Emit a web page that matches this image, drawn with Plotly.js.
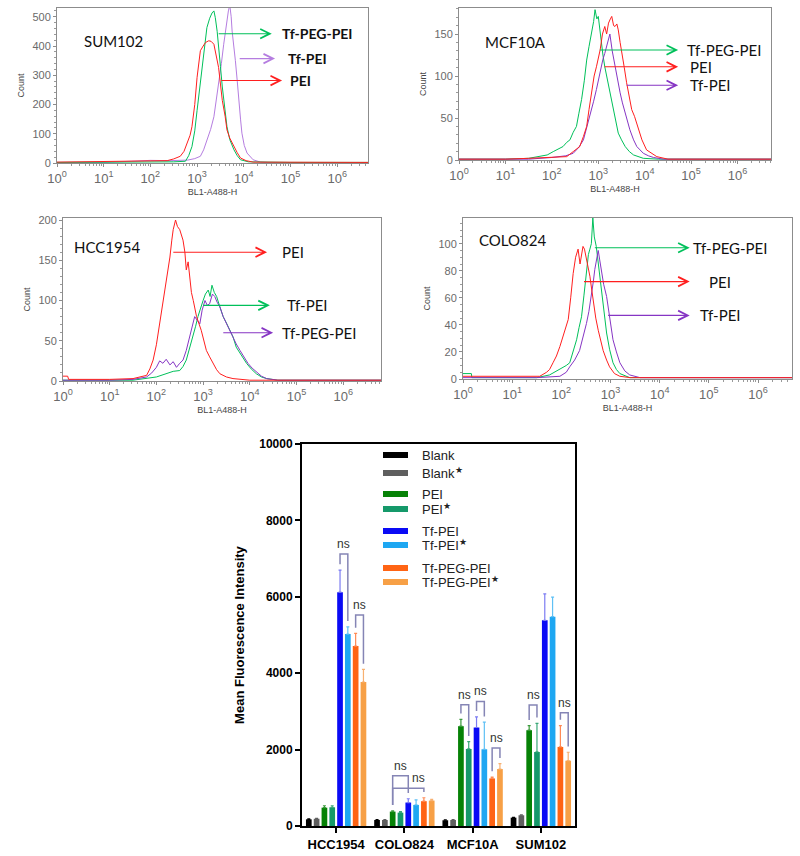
<!DOCTYPE html>
<html>
<head>
<meta charset="utf-8">
<script src="https://cdn.plot.ly/plotly-3.0.1.min.js"></script>
<style>html,body{margin:0;padding:0;background:#fff}#plot{width:800px;height:856px}</style>
</head>
<body>
<div id="plot"></div>
<script>
// ---- flow cytometry histograms (x = log10 of BL1-A488-H, y = count) ----
const sumPeiX = [0, 0.5, 1.0, 1.5, 2.0, 2.36, 2.5, 2.64, 2.72, 2.79, 2.85, 2.89, 2.95, 3.0, 3.07, 3.13, 3.18, 3.25, 3.3, 3.36, 3.41, 3.46, 3.5, 3.54, 3.6, 3.64, 3.7, 3.79, 3.86, 3.93, 4.05, 4.2, 5.0, 6.66];
const sumPeiY = [3, 4, 3, 4, 5, 8, 14, 23, 40, 68, 95, 124, 200, 293, 384, 400, 412, 418, 416, 406, 370, 327, 270, 214, 160, 113, 85, 56, 35, 17, 8, 3, 2, 2];
const sumTfPegX = [0, 1, 2, 2.5, 2.75, 2.82, 2.89, 2.95, 3.0, 3.05, 3.1, 3.16, 3.21, 3.27, 3.32, 3.36, 3.39, 3.43, 3.46, 3.5, 3.54, 3.59, 3.64, 3.7, 3.79, 3.86, 3.93, 4.1, 5, 6.66];
const sumTfPegY = [2, 2, 3, 4, 6, 25, 56, 110, 180, 250, 327, 400, 463, 495, 513, 520, 497, 450, 406, 330, 260, 190, 124, 80, 45, 25, 11, 4, 2, 2];
const sumTfPeiX = [0, 1, 1.6, 2.0, 2.4, 2.8, 2.95, 3.07, 3.14, 3.21, 3.29, 3.36, 3.41, 3.46, 3.52, 3.57, 3.61, 3.64, 3.67, 3.7, 3.73, 3.75, 3.79, 3.82, 3.86, 3.89, 3.93, 3.96, 4.01, 4.07, 4.14, 4.2, 4.36, 4.6, 6.66];
const sumTfPeiY = [2, 2, 6, 9, 8, 10, 15, 23, 45, 79, 115, 158, 210, 271, 340, 406, 460, 497, 520, 540, 500, 451, 400, 350, 280, 214, 150, 102, 60, 34, 20, 11, 3, 1, 1];

const mcfTfPegX = [0, 1.0, 1.5, 1.74, 1.9, 2.03, 2.15, 2.24, 2.32, 2.39, 2.46, 2.53, 2.58, 2.64, 2.7, 2.75, 2.8, 2.86, 2.9, 2.93, 2.97, 3.0, 3.04, 3.07, 3.1, 3.14, 3.18, 3.22, 3.27, 3.32, 3.38, 3.43, 3.5, 3.58, 3.67, 3.76, 3.97, 4.3, 6.72];
const mcfTfPegY = [1, 1, 2, 4, 6, 10, 14, 16, 21, 24, 33, 40, 55, 72, 95, 119, 135, 151, 165, 179, 168, 171, 150, 139, 125, 111, 100, 88, 75, 60, 45, 32, 24, 16, 10, 6, 2, 1, 1];
const mcfPeiX = [0, 1, 1.5, 2.0, 2.32, 2.46, 2.6, 2.68, 2.75, 2.8, 2.86, 2.91, 2.96, 3.0, 3.04, 3.09, 3.14, 3.18, 3.22, 3.26, 3.29, 3.33, 3.36, 3.4, 3.43, 3.47, 3.5, 3.56, 3.61, 3.67, 3.72, 3.78, 3.83, 3.88, 3.94, 4.04, 4.15, 4.26, 4.5, 6.72];
const mcfPeiY = [1, 1, 2, 3, 4, 10, 16, 28, 40, 60, 80, 100, 111, 122, 131, 150, 159, 150, 163, 168, 171, 160, 159, 162, 155, 140, 131, 110, 92, 75, 60, 52, 44, 34, 24, 12, 8, 4, 1, 1];
const mcfTfPeiX = [0, 1, 1.5, 2.0, 2.3, 2.46, 2.58, 2.68, 2.75, 2.82, 2.9, 2.96, 3.02, 3.07, 3.1, 3.14, 3.2, 3.25, 3.3, 3.36, 3.42, 3.47, 3.52, 3.58, 3.63, 3.68, 3.76, 3.83, 3.9, 3.97, 4.08, 4.19, 4.4, 6.72];
const mcfTfPeiY = [1, 1, 1, 3, 5, 8, 15, 24, 38, 52, 70, 84, 100, 115, 120, 127, 140, 150, 130, 111, 95, 80, 68, 56, 48, 36, 24, 16, 12, 8, 5, 3, 1, 1];

const hccPeiX = [0, 0.1, 0.12, 1.0, 1.5, 1.79, 1.86, 1.93, 2.0, 2.07, 2.13, 2.18, 2.24, 2.29, 2.33, 2.36, 2.41, 2.45, 2.5, 2.54, 2.57, 2.61, 2.64, 2.68, 2.71, 2.75, 2.79, 2.86, 2.96, 3.07, 3.14, 3.21, 3.29, 3.36, 3.5, 3.64, 4.0, 6.81];
const hccPeiY = [6, 6, 2, 2, 3, 7, 15, 26, 45, 71, 95, 113, 135, 154, 175, 188, 200, 192, 188, 180, 175, 160, 138, 148, 129, 110, 100, 80, 63, 38, 30, 22, 14, 9, 5, 3, 1, 1];
const hccTfPegX = [0, 1, 1.5, 1.79, 1.9, 2.0, 2.07, 2.14, 2.21, 2.29, 2.36, 2.43, 2.5, 2.57, 2.64, 2.71, 2.77, 2.82, 2.88, 2.93, 2.98, 3.04, 3.09, 3.14, 3.2, 3.25, 3.3, 3.36, 3.43, 3.5, 3.57, 3.64, 3.71, 3.79, 3.88, 3.96, 4.05, 4.14, 4.25, 4.36, 4.6, 6.81];
const hccTfPegY = [1, 1, 2, 5, 10, 17, 25, 22, 27, 20, 24, 17, 22, 26, 38, 55, 70, 80, 75, 71, 88, 100, 94, 96, 108, 105, 98, 92, 80, 71, 64, 55, 46, 38, 30, 22, 16, 11, 6, 3, 1, 1];
const hccTfPeiX = [0, 1, 1.5, 2.0, 2.21, 2.36, 2.5, 2.57, 2.64, 2.71, 2.79, 2.84, 2.89, 2.95, 3.0, 3.05, 3.11, 3.15, 3.19, 3.24, 3.29, 3.36, 3.43, 3.5, 3.57, 3.64, 3.71, 3.82, 3.93, 4.03, 4.14, 4.25, 4.36, 4.6, 6.81];
const hccTfPeiY = [1, 1, 1, 5, 9, 12, 13, 18, 26, 40, 55, 68, 80, 92, 100, 108, 113, 105, 119, 110, 105, 92, 80, 72, 63, 55, 42, 32, 22, 15, 9, 5, 3, 1, 1];

const coloPeiX = [0, 1.0, 1.56, 1.7, 1.76, 1.83, 1.9, 1.97, 2.03, 2.09, 2.14, 2.19, 2.24, 2.29, 2.34, 2.38, 2.41, 2.44, 2.47, 2.52, 2.58, 2.61, 2.64, 2.7, 2.75, 2.8, 2.85, 2.92, 2.98, 3.08, 3.19, 3.4, 6.69];
const coloPeiY = [2, 2, 2, 5, 7, 12, 17, 24, 31, 38, 44, 60, 78, 90, 96, 85, 93, 98, 96, 88, 76, 68, 59, 45, 36, 28, 21, 14, 9, 4, 2, 1, 1];
const coloTfPegX = [0, 0.17, 0.18, 1.0, 1.5, 1.76, 1.97, 2.1, 2.17, 2.24, 2.31, 2.36, 2.41, 2.46, 2.51, 2.55, 2.58, 2.61, 2.64, 2.67, 2.71, 2.76, 2.81, 2.86, 2.92, 2.98, 3.05, 3.12, 3.19, 3.39, 6.69];
const coloTfPegY = [4, 4, 1, 1, 1, 3, 7, 10, 12, 20, 29, 38, 46, 62, 81, 92, 96, 100, 119, 105, 98, 82, 66, 50, 34, 22, 12, 7, 4, 1, 1];
const coloTfPeiX = [0, 1.0, 1.5, 1.97, 2.1, 2.17, 2.27, 2.37, 2.44, 2.51, 2.56, 2.61, 2.65, 2.68, 2.72, 2.75, 2.78, 2.81, 2.86, 2.92, 2.98, 3.05, 3.12, 3.19, 3.29, 3.39, 3.6, 6.69];
const coloTfPeiY = [1, 1, 1, 2, 5, 9, 14, 21, 30, 41, 50, 61, 72, 81, 90, 95, 88, 81, 70, 61, 45, 29, 20, 12, 6, 3, 1, 1];

const decadeVals = [1, 10, 100, 1000, 10000, 100000, 1000000];
const decadeText = ['10<sup>0</sup>', '10<sup>1</sup>', '10<sup>2</sup>', '10<sup>3</sup>', '10<sup>4</sup>', '10<sup>5</sup>', '10<sup>6</sup>'];

// ---- mean fluorescence intensity bar chart ----
const cellLines = ['HCC1954', 'COLO824', 'MCF10A', 'SUM102'];
const groupNames = ['Blank', 'Blank<sup>★</sup>', 'PEI', 'PEI<sup>★</sup>', 'Tf-PEI', 'Tf-PEI<sup>★</sup>', 'Tf-PEG-PEI', 'Tf-PEG-PEI<sup>★</sup>'];
const blankMfi = [175, 158, 150, 219];
const blankStarMfi = [190, 158, 158, 281];
const peiMfi = [480, 377, 2613, 2508];
const peiStarMfi = [490, 350, 2017, 1938];
const tfPeiMfi = [6120, 614, 2578, 5385];
const tfPeiStarMfi = [5025, 552, 2008, 5481];
const tfPegMfi = [4710, 650, 1245, 2070];
const tfPegStarMfi = [3770, 666, 1491, 1710];
const blankErr = [10, 8, 8, 10];
const blankStarErr = [10, 8, 8, 10];
const peiErr = [50, 20, 180, 120];
const peiStarErr = [40, 30, 190, 750];
const tfPeiErr = [580, 100, 280, 690];
const tfPeiStarErr = [190, 130, 710, 510];
const tfPegErr = [330, 90, 35, 560];
const tfPegStarErr = [330, 30, 140, 220];
// [cell index, bar index a, bar index b, bracket height]
const nsPairs = [[0, 4, 5, 7120], [0, 6, 7, 5525], [1, 2, 4, 1316], [1, 2, 6, 990],
                 [2, 2, 3, 3175], [2, 4, 5, 3262], [2, 6, 7, 2043], [3, 2, 3, 3166], [3, 6, 7, 2964]];

const W = 800, H = 856;
const RED = '#ff1f1f', GREEN = '#00c05a', PURPLE = '#8635c4', PURPLE_LIGHT = '#b57de0';

function histTrace(logX, counts, color, xa, ya) {
    return {
        x: logX.map(v => Math.pow(10, v)), y: counts, xaxis: xa, yaxis: ya,
        mode: 'lines', line: {color: color, width: 1}, hoverinfo: 'skip', showlegend: false
    };
}

const traces = [
    histTrace(sumTfPeiX, sumTfPeiY, PURPLE_LIGHT, 'x', 'y'),
    histTrace(sumTfPegX, sumTfPegY, GREEN, 'x', 'y'),
    histTrace(sumPeiX, sumPeiY, RED, 'x', 'y'),
    histTrace(mcfTfPegX, mcfTfPegY, GREEN, 'x2', 'y2'),
    histTrace(mcfTfPeiX, mcfTfPeiY, PURPLE, 'x2', 'y2'),
    histTrace(mcfPeiX, mcfPeiY, RED, 'x2', 'y2'),
    histTrace(hccTfPeiX, hccTfPeiY, GREEN, 'x3', 'y3'),
    histTrace(hccTfPegX, hccTfPegY, PURPLE, 'x3', 'y3'),
    histTrace(hccPeiX, hccPeiY, RED, 'x3', 'y3'),
    histTrace(coloTfPegX, coloTfPegY, GREEN, 'x4', 'y4'),
    histTrace(coloTfPeiX, coloTfPeiY, PURPLE, 'x4', 'y4'),
    histTrace(coloPeiX, coloPeiY, RED, 'x4', 'y4')
];

const barValues = [blankMfi, blankStarMfi, peiMfi, peiStarMfi, tfPeiMfi, tfPeiStarMfi, tfPegMfi, tfPegStarMfi];
const barErrors = [blankErr, blankStarErr, peiErr, peiStarErr, tfPeiErr, tfPeiStarErr, tfPegErr, tfPegStarErr];
const barColors = ['#000000', '#5f5f5f', '#068206', '#15996a', '#0a0af5', '#1ea7f2', '#ff6414', '#f7a046'];
const errColors = ['#000000', '#5f5f5f', '#3a9a3a', '#3aa878', '#7c7cf2', '#5fc0f5', '#ff8a55', '#f7b070'];
const cellPos = cellLines.map((_, i) => i);

barValues.forEach((vals, i) => {
    traces.push({
        type: 'bar', x: cellPos, y: vals, name: groupNames[i], xaxis: 'x5', yaxis: 'y5',
        marker: {color: barColors[i]}, showlegend: false,
        error_y: {type: 'data', symmetric: false, array: barErrors[i], arrayminus: vals.map(() => 0),
                  color: errColors[i], thickness: 1.2, width: 1.5}
    });
});

const BARGAP = 0.085;
const groupW = 1 - BARGAP;
const slotW = groupW / barValues.length;
function barCenter(cell, i) {
    return cell - groupW / 2 + (i + 0.5) * slotW;
}

function logAxis(dom, maxLog, anchor) {
    return {
        domain: dom, type: 'log', range: [0, maxLog], anchor: anchor,
        tickvals: decadeVals, ticktext: decadeText, tickmode: 'array',
        showline: true, linecolor: '#8c8c8c', linewidth: 1, mirror: true,
        ticks: 'outside', ticklen: 3, tickcolor: '#8c8c8c',
        minor: {ticks: 'outside', ticklen: 2, tickcolor: '#9a9a9a', dtick: 'D1'},
        tickfont: {family: 'Liberation Sans', size: 13, color: '#6a6a6a'},
        showgrid: false, zeroline: false,
        title: {text: 'BL1-A488-H', font: {family: 'Liberation Sans', size: 9, color: '#444'}, standoff: 4}
    };
}
function countAxis(dom, maxY, dtick, minorTick, anchor) {
    return {
        domain: dom, range: [0, maxY], dtick: dtick, anchor: anchor,
        showline: true, linecolor: '#8c8c8c', linewidth: 1, mirror: true,
        ticks: 'outside', ticklen: 3, tickcolor: '#8c8c8c',
        minor: {ticks: 'outside', ticklen: 2, tickcolor: '#9a9a9a', dtick: minorTick},
        tickfont: {family: 'Liberation Sans', size: 11, color: '#6a6a6a'},
        showgrid: false, zeroline: false,
        title: {text: 'Count', font: {family: 'Liberation Sans', size: 9, color: '#444'}, standoff: 6}
    };
}
const px = v => v / W;
const py = v => 1 - v / H;

const annotations = [];
const shapes = [];

// cell line labels and arrow labels inside the histograms
const panelLabels = [
    {xa: 'x', ya: 'y', name: 'SUM102', nx: 0.54, ny: 418, bold: true, arrows: [
        ['Tf-PEG-PEI', GREEN, 3.43, 4.6, 442, 4.78],
        ['Tf-PEI', PURPLE_LIGHT, 3.88, 4.67, 357, 4.9],
        ['PEI', RED, 3.49, 4.82, 282, 4.95]]},
    {xa: 'x2', ya: 'y2', name: 'MCF10A', nx: 0.52, ny: 141, bold: false, arrows: [
        ['Tf-PEG-PEI', GREEN, 3.0, 4.72, 131, 4.87],
        ['PEI', RED, 3.1, 4.72, 111, 4.93],
        ['Tf-PEI', PURPLE, 3.58, 4.72, 89, 4.93]]},
    {xa: 'x3', ya: 'y3', name: 'HCC1954', nx: 0.19, ny: 166, bold: false, arrows: [
        ['PEI', RED, 2.33, 4.37, 160, 4.65],
        ['Tf-PEI', GREEN, 2.97, 4.43, 94, 4.75],
        ['Tf-PEG-PEI', PURPLE, 3.4, 4.5, 60, 4.65]]},
    {xa: 'x4', ya: 'y4', name: 'COLO824', nx: 0.28, ny: 103, bold: false, arrows: [
        ['Tf-PEG-PEI', GREEN, 2.65, 4.61, 97, 4.64],
        ['PEI', RED, 2.43, 4.61, 72, 4.96],
        ['Tf-PEI', PURPLE, 2.92, 4.61, 47, 4.78]]}
];
panelLabels.forEach(p => {
    annotations.push({xref: p.xa, yref: p.ya, x: p.nx, y: p.ny, xanchor: 'left', yanchor: 'middle',
        text: p.name, showarrow: false, font: {family: 'Lato', size: 15, color: '#111'}});
    p.arrows.forEach(a => {
        annotations.push({xref: p.xa, yref: p.ya, x: a[3], y: a[4], axref: p.xa, ayref: p.ya, ax: a[2], ay: a[4],
            text: '', showarrow: true, arrowhead: 5, arrowsize: 1.7, arrowwidth: 1.1, arrowcolor: a[1]});
        annotations.push({xref: p.xa, yref: p.ya, x: a[5], y: a[4], xanchor: 'left', yanchor: 'middle',
            text: p.bold ? '<b>' + a[0] + '</b>' : a[0], showarrow: false,
            font: {family: 'Lato', size: p.bold ? 14 : 15, color: '#111'}});
    });
});

// ns brackets (the COLO824 PEI vs Tf-PEG-PEI label sits right of centre, as in the figure)
nsPairs.forEach(([cell, a, b, top], k) => {
    const xa = barCenter(cell, a), xb = barCenter(cell, b);
    const ya = Math.min(barValues[a][cell] + barErrors[a][cell] + 150, top - 80);
    const yb = Math.min(barValues[b][cell] + barErrors[b][cell] + 150, top - 80);
    shapes.push({type: 'path', xref: 'x5', yref: 'y5',
        path: `M${xa},${ya} L${xa},${top} L${xb},${top} L${xb},${yb}`,
        line: {color: '#8585b5', width: 1.5}});
    annotations.push({xref: 'x5', yref: 'y5', x: (xa + xb) / 2, y: top, yanchor: 'bottom', yshift: 1,
        xshift: k === 3 ? 10 : 0,
        text: 'ns', showarrow: false, font: {family: 'Liberation Sans', size: 12, color: '#333'}});
});

// bar chart legend
const legendY = [455, 473, 494, 509, 531, 545, 568, 582];
groupNames.forEach((name, i) => {
    shapes.push({type: 'rect', xref: 'paper', yref: 'paper', x0: px(383), x1: px(408),
        y0: py(legendY[i] + 3), y1: py(legendY[i] - 3), fillcolor: barColors[i], line: {width: 0}});
    annotations.push({xref: 'paper', yref: 'paper', x: px(420), y: py(legendY[i]), xanchor: 'left', yanchor: 'middle',
        text: name, showarrow: false, font: {family: 'Liberation Sans', size: 13, color: '#222'}});
});

const layout = {
    width: W, height: H, margin: {l: 0, r: 0, t: 0, b: 0},
    paper_bgcolor: '#fff', plot_bgcolor: '#fff',
    font: {family: 'Liberation Sans'},
    showlegend: false,
    barmode: 'group', bargap: BARGAP, bargroupgap: 0.27,
    xaxis: logAxis([px(57), px(368)], 6.66, 'y'),
    yaxis: countAxis([py(163), py(8)], 530, 100, 20, 'x'),
    xaxis2: logAxis([px(459), px(771)], 6.72, 'y2'),
    yaxis2: countAxis([py(160), py(8)], 181, 50, 10, 'x2'),
    xaxis3: logAxis([px(63), px(381)], 6.81, 'y3'),
    yaxis3: countAxis([py(381), py(218)], 202.5, 50, 10, 'x3'),
    xaxis4: logAxis([px(463), px(792)], 6.69, 'y4'),
    yaxis4: countAxis([py(379), py(218)], 119, 20, 5, 'x4'),
    xaxis5: {
        domain: [px(302), px(575)], range: [-0.5, 3.5], anchor: 'y5',
        tickmode: 'array', tickvals: cellPos, ticktext: cellLines,
        showline: true, linecolor: '#000', linewidth: 2, mirror: true,
        ticks: 'outside', ticklen: 5, tickwidth: 2, tickcolor: '#000',
        tickfont: {family: 'Liberation Sans', size: 13, color: '#000', weight: 'bold'},
        showgrid: false, zeroline: false
    },
    yaxis5: {
        domain: [py(826), py(444)], range: [0, 10000], dtick: 2000, tickformat: 'd', anchor: 'x5',
        showline: true, linecolor: '#000', linewidth: 2, mirror: true,
        ticks: 'outside', ticklen: 5, tickwidth: 2, tickcolor: '#000',
        tickfont: {family: 'Liberation Sans', size: 12, color: '#000', weight: 'bold'},
        showgrid: false, zeroline: false,
        title: {text: 'Mean Fluorescence Intensity', font: {family: 'Liberation Sans', size: 13, color: '#000', weight: 'bold'}, standoff: 12}
    },
    annotations: annotations,
    shapes: shapes
};

Plotly.newPlot('plot', traces, layout, {staticPlot: true});
</script>
</body>
</html>
